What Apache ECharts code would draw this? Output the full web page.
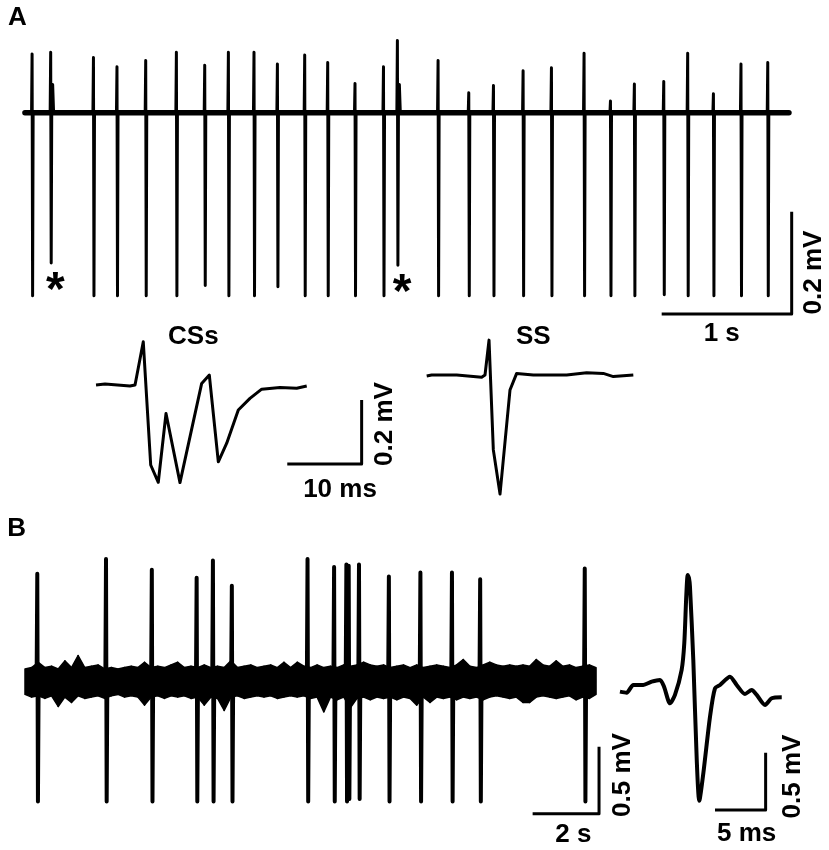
<!DOCTYPE html>
<html><head><meta charset="utf-8">
<script src="https://cdn.jsdelivr.net/npm/echarts@6/dist/echarts.min.js"></script>
<style>html,body{margin:0;padding:0;background:#fff}#c{width:829px;height:850px}</style>
</head><body><div id="c"></div>
<script>
// ---------- Panel A: simple + complex spike train (s, mV) ----------
const aTraceStart = 0.038, aTraceEnd = 5.915;
const aSpikeTimes   = [0.095, 0.238, 0.567, 0.748, 0.969, 1.205, 1.423, 1.605, 1.802, 1.982, 2.192, 2.369, 2.579, 2.798, 2.905,
                       3.218, 3.454, 3.644, 3.872, 4.090, 4.341, 4.544, 4.728, 4.954, 5.138, 5.336, 5.548, 5.754];
const aSpikePeaks   = [0.115, 0.118, 0.108, 0.090, 0.102, 0.118, 0.093, 0.118, 0.118, 0.095, 0.113, 0.098, 0.057, 0.090, 0.141,
                       0.102, 0.039, 0.053, 0.082, 0.088, 0.116, 0.023, 0.056, 0.061, 0.116, 0.037, 0.095, 0.098];
const aSpikeTroughs = [-0.358, -0.294, -0.358, -0.358, -0.358, -0.358, -0.338, -0.358, -0.358, -0.340, -0.358, -0.358, -0.358, -0.358, -0.298,
                       -0.358, -0.358, -0.358, -0.358, -0.358, -0.358, -0.358, -0.358, -0.356, -0.358, -0.358, -0.358, -0.358];
const aComplexIdx = [1, 14];            // complex spikes, marked with *
const aScaleTime = [4.936, 5.936];      // 1 s
const aScaleVolt = [-0.3935, -0.1935];  // 0.2 mV

// ---------- Panel A insets: averaged waveforms (ms, mV) ----------
const csT = [0.81, 2.02, 5.38, 6.06, 7.17, 8.17, 9.19, 10.23, 12.11, 15.03, 16.06, 17.27, 18.40, 19.96, 21.53, 23.11, 25.57, 27.82, 29.17];
const csV = [0, 0.003, -0.003, 0, 0.135, -0.250, -0.304, -0.089, -0.305, 0.005, 0.031, -0.240, -0.182, -0.078, -0.042, -0.013, -0.008, -0.010, -0.003];
const ssT = [0.90, 1.57, 4.94, 8.30, 8.75, 9.29, 9.87, 10.77, 12.11, 13.01, 15.25, 19.74, 22.43, 24.67, 26.02, 28.71];
const ssV = [-0.003, 0, 0, -0.007, 0, 0.109, -0.234, -0.372, -0.047, 0.005, 0, 0, 0.007, 0.005, -0.005, 0];
const csScaleTime = [26.55, 36.56];     // 10 ms
const csScaleVolt = [-0.247, -0.047];   // 0.2 mV

// ---------- Panel B: noisy recording (s, mV) ----------
const bBandStep = 0.2;
const bBandUpper = [0.09,0.10,0.14,0.10,0.11,0.09,0.15,0.10,0.19,0.10,0.11,0.12,0.09,0.10,0.09,0.10,0.11,0.10,0.14,0.10,
  0.11,0.10,0.12,0.14,0.10,0.11,0.10,0.12,0.10,0.11,0.10,0.15,0.10,0.11,0.12,0.10,0.11,0.12,0.10,0.14,
  0.10,0.14,0.11,0.10,0.12,0.10,0.11,0.10,0.12,0.11,0.12,0.14,0.12,0.11,0.12,0.10,0.11,0.12,0.10,0.12,
  0.10,0.11,0.12,0.11,0.10,0.12,0.16,0.11,0.10,0.12,0.14,0.12,0.11,0.12,0.11,0.12,0.11,0.16,0.12,0.11,
  0.15,0.11,0.12,0.10,0.11,0.12,0.10];
const bBandLower = [-0.10,-0.12,-0.11,-0.13,-0.11,-0.19,-0.12,-0.16,-0.11,-0.13,-0.12,-0.11,-0.13,-0.11,-0.10,-0.12,-0.11,-0.12,-0.18,-0.12,
  -0.11,-0.13,-0.11,-0.12,-0.11,-0.13,-0.12,-0.18,-0.12,-0.13,-0.22,-0.12,-0.11,-0.13,-0.12,-0.11,-0.12,-0.11,-0.13,-0.12,
  -0.11,-0.12,-0.11,-0.13,-0.12,-0.23,-0.12,-0.14,-0.12,-0.20,-0.13,-0.12,-0.14,-0.12,-0.13,-0.12,-0.14,-0.12,-0.13,-0.18,
  -0.12,-0.16,-0.12,-0.13,-0.12,-0.14,-0.12,-0.13,-0.12,-0.14,-0.12,-0.11,-0.12,-0.13,-0.12,-0.16,-0.16,-0.12,-0.11,-0.12,
  -0.13,-0.12,-0.11,-0.14,-0.12,-0.13,-0.10];
const bSpikeTimes   = [0.38, 2.45, 3.83, 5.18, 5.67, 6.24, 8.52, 9.32, 9.69, 9.76, 10.07, 10.97, 11.92, 12.87, 13.72, 16.87];
const bSpikePeaks   = [0.80, 0.91, 0.83, 0.77, 0.90, 0.71, 0.91, 0.85, 0.87, 0.86, 0.87, 0.78, 0.81, 0.81, 0.76, 0.84];
const bSpikeTroughs = [-0.90, -0.90, -0.90, -0.90, -0.90, -0.90, -0.90, -0.90, -0.90, -0.88, -0.88, -0.90, -0.90, -0.90, -0.90, -0.90];
const bScaleTime = [15.29, 17.29];      // 2 s
const bScaleVolt = [-0.99, -0.49];      // 0.5 mV

// ---------- Panel B inset: average spike waveform (ms, mV) ----------
const bwT = [0.49, 1.15, 1.81, 2.79, 3.62, 4.44, 4.84, 5.43, 5.92, 6.58, 6.84, 7.04, 7.18, 7.30, 7.40, 7.73, 8.07, 8.32, 8.72, 9.38, 9.87, 10.37, 11.35, 12.01, 12.83, 13.49, 13.99, 14.81, 15.47, 16.46];
const bwV = [-0.058, -0.067, 0, 0, 0.029, 0.044, -0.015, -0.160, -0.087, 0.131, 0.364, 0.785, 0.959, 0.933, 0.857, 0.218, -0.654, -1.009, -0.770, -0.276, -0.029, 0, 0.072, 0, -0.078, -0.044, -0.087, -0.174, -0.116, -0.107];
const bwScaleTime = [9.87, 14.87];      // 5 ms
const bwScaleVolt = [-1.09, -0.59];     // 0.5 mV

// ---------- build series data ----------
function zip(a, b) { return a.map((v, i) => [v, b[i]]); }
function spikeTrain(start, end, times, peaks, troughs, dt, complexIdx) {
  const d = [[start, 0]];
  times.forEach((t, i) => {
    d.push([t - dt, 0], [t - dt / 3, peaks[i]], [t + dt / 3, troughs[i]], [t + dt, 0]);
    if (complexIdx && complexIdx.includes(i)) {
      d.push([t + 2.2 * dt, 0.055], [t + 3.4 * dt, 0]);
    }
  });
  d.push([end, 0]);
  return d;
}
function scaleBar(ts, vs) { return [[ts[0], vs[0]], [ts[1], vs[0]], [ts[1], vs[1]]]; }

const bandT = bBandUpper.map((_, i) => +(i * bBandStep).toFixed(2));
const bEnd = bandT[bandT.length - 1];
const bandSegs = bandT.slice(0, -1).map((t, i) =>
  [t, bBandUpper[i], bBandLower[i], bandT[i + 1], bBandUpper[i + 1], bBandLower[i + 1]]);

const BLACK = '#000';
const FAM = '"Liberation Sans", Arial, Helvetica, sans-serif';
const FONT = 'bold 26px ' + FAM;

const grids = [
  { left: 20,  top: 30.86, width: 780, height: 296.7 },   // A trace
  { left: 90,  top: 321,   width: 300, height: 192 },     // CSs
  { left: 420, top: 311,   width: 230, height: 192 },     // SS
  { left: 25,  top: 547,   width: 597.6, height: 281.4 }, // B trace
  { left: 615, top: 558.8, width: 190, height: 263.8 }    // B inset
];
const xr = [[0, 6], [0, 300 / 7.43], [0, 230 / 7.43], [0, 18], [0, 190 / 10.13]];
const yr = [[-0.42, 0.16], [-0.4, 0.2], [-0.4, 0.2], [-1.1, 1.0], [-1.2, 1.1]];

const xAxis = xr.map((r, i) => ({ type: 'value', gridIndex: i, min: r[0], max: r[1], show: false }));
const yAxis = yr.map((r, i) => ({ type: 'value', gridIndex: i, min: r[0], max: r[1], show: false }));

function line(i, data, w, extra) {
  return Object.assign({
    type: 'line', xAxisIndex: i, yAxisIndex: i, data: data, symbol: 'none', silent: true,
    animation: false, lineStyle: { color: BLACK, width: w, join: 'round' }
  }, extra || {});
}

const series = [
  // A
  line(0, [[aTraceStart, 0], [aTraceEnd, 0]], 5.5, { lineStyle: { color: BLACK, width: 5.5, cap: 'round' } }),
  line(0, spikeTrain(aTraceStart, aTraceEnd, aSpikeTimes, aSpikePeaks, aSpikeTroughs, 0.006, aComplexIdx), 3),
  line(0, scaleBar(aScaleTime, aScaleVolt), 3),
  {
    type: 'custom', xAxisIndex: 0, yAxisIndex: 0, silent: true, animation: false,
    data: aComplexIdx.map(i => [aSpikeTimes[i] + 0.034, aSpikeTroughs[i] - 0.056]),
    renderItem: function (params, api) {
      const c = api.coord([api.value(0), api.value(1)]);
      return { type: 'text', x: c[0], y: c[1],
        style: { text: '*', font: 'bold 48px ' + FAM, fill: BLACK, textAlign: 'center', textVerticalAlign: 'middle', align: 'center', verticalAlign: 'middle' } };
    }
  },
  // insets
  line(1, zip(csT, csV), 3),
  line(1, scaleBar(csScaleTime, csScaleVolt), 3),
  line(2, zip(ssT, ssV), 3),
  // B
  {
    type: 'custom', xAxisIndex: 3, yAxisIndex: 3, silent: true, animation: false,
    data: bandSegs, encode: { x: [0, 3], y: [1, 2, 4, 5] },
    renderItem: function (params, api) {
      const pts = [
        api.coord([api.value(0), api.value(1)]), api.coord([api.value(3), api.value(4)]),
        api.coord([api.value(3), api.value(5)]), api.coord([api.value(0), api.value(2)])
      ];
      return { type: 'polygon', shape: { points: pts }, style: { fill: BLACK, stroke: BLACK, lineWidth: 1.5, lineJoin: 'round' } };
    }
  },
  line(3, spikeTrain(0, bEnd, bSpikeTimes, bSpikePeaks, bSpikeTroughs, 0.03), 4),
  line(3, scaleBar(bScaleTime, bScaleVolt), 3),
  line(4, zip(bwT, bwV), 4, { smooth: 0.25 }),
  line(4, scaleBar(bwScaleTime, bwScaleVolt), 3)
];

function txt(s, x, y, rot) {
  return { type: 'text', x: x, y: y, rotation: rot || 0, silent: true,
    style: { text: s, font: FONT, fill: BLACK, textAlign: 'center', textVerticalAlign: 'middle', align: 'center', verticalAlign: 'middle' } };
}
const R = Math.PI / 2;
const graphic = [
  txt('A', 17.5, 18), txt('B', 16.7, 529),
  txt('1 s', 721.7, 334), txt('0.2 mV', 813.5, 272.5, R),
  txt('CSs', 193.3, 337), txt('SS', 533.3, 337),
  txt('10 ms', 340, 490), txt('0.2 mV', 385, 424, R),
  txt('2 s', 573.3, 835), txt('0.5 mV', 623, 775, R),
  txt('5 ms', 746.7, 833.5), txt('0.5 mV', 793, 776.5, R)
];

const chart = echarts.init(document.getElementById('c'), null, { renderer: 'canvas' });
chart.setOption({ backgroundColor: '#fff', animation: false, grid: grids, xAxis: xAxis, yAxis: yAxis, series: series, graphic: graphic });
</script></body></html>
